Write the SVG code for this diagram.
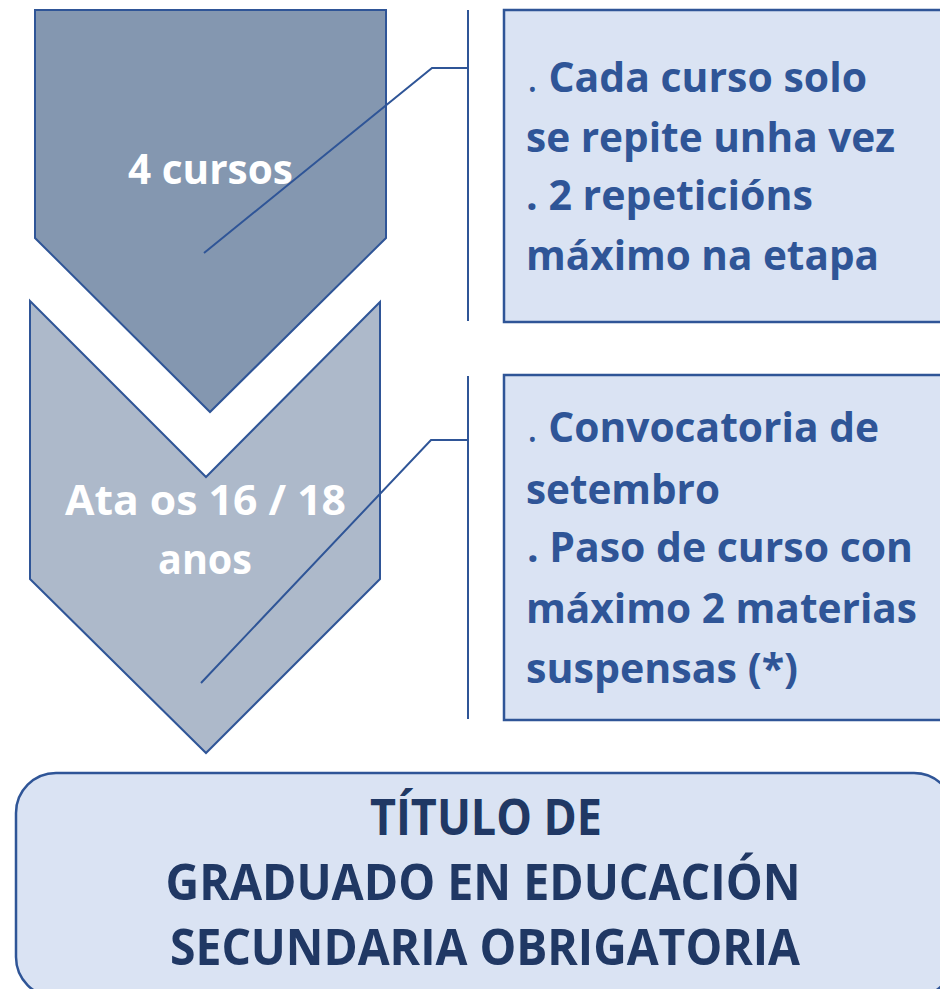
<svg xmlns="http://www.w3.org/2000/svg" width="940" height="989" viewBox="0 0 940 989">
<style>
.chev{stroke:#2f5597;stroke-width:2;stroke-linejoin:miter}
.box{fill:#dae3f3;stroke:#2f5597;stroke-width:2.5}
.ln{fill:none;stroke:#2f5597;stroke-width:2}
.wt{font-family:"Open Sans","Liberation Sans",sans-serif;font-weight:700;font-size:42px;fill:#ffffff}
.bt{font-family:"Open Sans","Liberation Sans",sans-serif;font-weight:700;font-size:42px;fill:#2f5597}
.tt{font-family:"Open Sans","Liberation Sans",sans-serif;font-weight:700;font-size:50px;fill:#203864;text-anchor:middle}
.nd{font-weight:400}
</style>
<rect width="940" height="989" fill="#ffffff"/>
<g id="chevron1">
<polygon class="chev" fill="#8497b0" points="35,10 386,10 386,238 210,412 35,238"/>
<text class="wt" x="128" y="184" textLength="165" lengthAdjust="spacingAndGlyphs">4 cursos</text>
</g>
<g id="chevron2">
<polygon class="chev" fill="#adb9ca" points="30,301 206,477 380,302 380,579 206,753 30,579"/>
<text class="wt" x="65" y="515" textLength="281" lengthAdjust="spacingAndGlyphs">Ata os 16 / 18</text>
<text class="wt" x="158" y="574" textLength="94" lengthAdjust="spacingAndGlyphs">anos</text>
</g>
<g id="box1">
<rect class="box" x="504" y="10" width="450" height="312"/>
<text class="bt" x="527" y="92" textLength="340" lengthAdjust="spacingAndGlyphs"><tspan class="nd">.</tspan> Cada curso solo</text>
<text class="bt" x="526" y="152" textLength="369" lengthAdjust="spacingAndGlyphs">se repite unha vez</text>
<text class="bt" x="526" y="210" textLength="287" lengthAdjust="spacingAndGlyphs">. 2 repeticións</text>
<text class="bt" x="526" y="270" textLength="353" lengthAdjust="spacingAndGlyphs">máximo na etapa</text>
</g>
<g id="box2">
<rect class="box" x="504" y="375" width="450" height="345"/>
<text class="bt" x="527" y="442" textLength="352" lengthAdjust="spacingAndGlyphs"><tspan class="nd">.</tspan> Convocatoria de</text>
<text class="bt" x="526" y="504" textLength="194" lengthAdjust="spacingAndGlyphs">setembro</text>
<text class="bt" x="527" y="562" textLength="386" lengthAdjust="spacingAndGlyphs">. Paso de curso con</text>
<text class="bt" x="526" y="623" textLength="391" lengthAdjust="spacingAndGlyphs">máximo 2 materias</text>
<text class="bt" x="526" y="683" textLength="272" lengthAdjust="spacingAndGlyphs">suspensas (*)</text>
</g>
<g id="result">
<rect class="box" x="16" y="773" width="938" height="224" rx="40" ry="40"/>
<text class="tt" x="486" y="835" textLength="232" lengthAdjust="spacingAndGlyphs">TÍTULO DE</text>
<text class="tt" x="483" y="900" textLength="635" lengthAdjust="spacingAndGlyphs">GRADUADO EN EDUCACIÓN</text>
<text class="tt" x="485" y="965" textLength="630" lengthAdjust="spacingAndGlyphs">SECUNDARIA OBRIGATORIA</text>
</g>
<g id="connectors">
<line class="ln" x1="468" y1="10" x2="468" y2="321"/>
<polyline class="ln" points="204,253 432,68 468,68"/>
<line class="ln" x1="468" y1="376" x2="468" y2="719"/>
<polyline class="ln" points="201,683 431,440 468,440"/>
</g>
</svg>
